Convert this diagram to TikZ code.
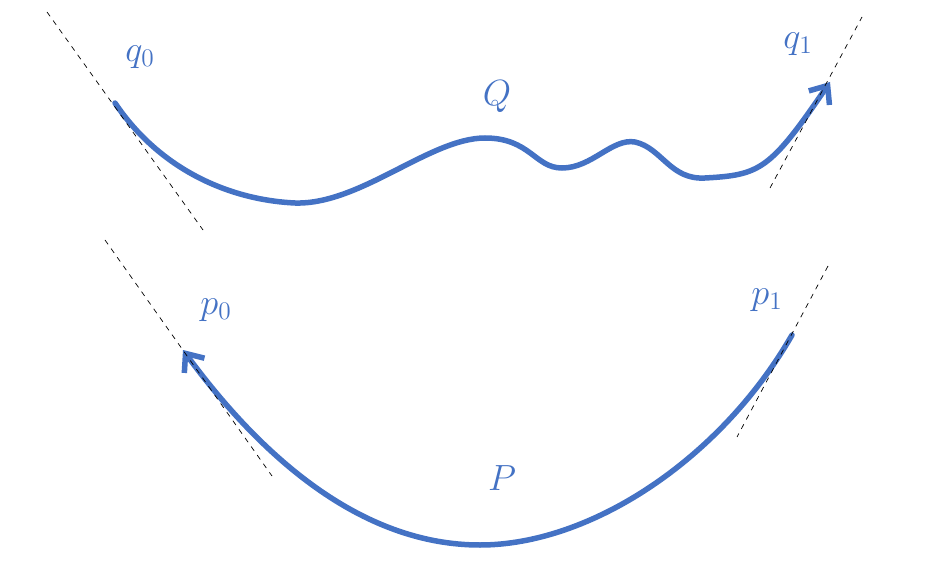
\documentclass[tikz,border=0pt]{standalone}
\usetikzlibrary{arrows.meta}
\definecolor{curveblue}{HTML}{4472C4}
\begin{document}
\begin{tikzpicture}[x=0.02cm, y=-0.02cm,
    curve/.style={curveblue, line width=1.1mm, line cap=round},
    tangent/.style={black, dashed, thin},
    lbl/.style={text=curveblue, font=\huge}]
    \useasboundingbox (0,0) rectangle (928,563);
    % upper curve
    \draw[curve, -{Straight Barb[length=3mm, width=5mm]}] (115,103)
        .. controls (160,170) and (230,200) .. (295,203)
        .. controls (360,205) and (430,138) .. (485,138)
        .. controls (530,138) and (535,168) .. (562,168)
        .. controls (592,168) and (612,138) .. (635,142)
        .. controls (662,148) and (670,180) .. (705,178)
        .. controls (760,175) and (770,170) .. (830,82);
    \draw[tangent] (47,12) -- (203,230);
    \draw[tangent] (770,188) -- (862,17);
    % lower curve
    \draw[curve, -{Straight Barb[length=3mm, width=5mm]}] (792,335)
        .. controls (720,460) and (590,545) .. (480,545)
        .. controls (360,545) and (260,455) .. (183,350);
    \draw[tangent] (105,240) -- (272,476);
    \draw[tangent] (828,266) -- (737,437);
    % labels
    \node[lbl] (q0) at (140,57) {$q_0$};
    \node[lbl] (Q) at (497,97) {$Q$};
    \node[lbl] (q1) at (798,44) {$q_1$};
    \node[lbl] (p0) at (216,310) {$p_0$};
    \node[lbl] (P) at (502,478) {$P$};
    \node[lbl] (p1) at (767,300) {$p_1$};
\end{tikzpicture}
\end{document}
